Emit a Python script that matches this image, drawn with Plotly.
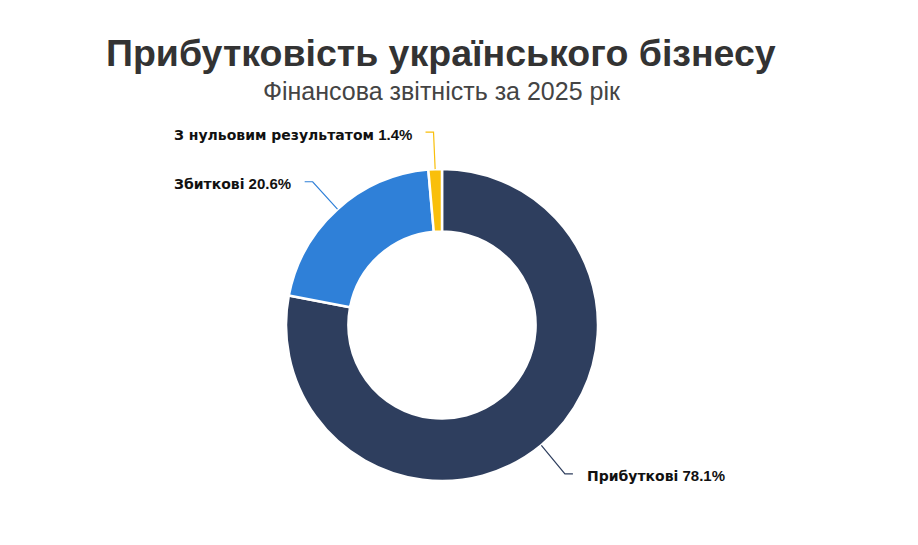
import math
import plotly.graph_objects as go

# ---- data ----
labels = ["Прибуткові", "Збиткові", "З нульовим результатом"]
values = [78.1, 20.6, 1.4]
colors = ["#2e3e5e", "#2f80d8", "#f9bf0b"]
title_text = "Прибутковість українського бізнесу"
subtitle_text = "Фінансова звітність за 2025 рік"

OFF = 8  # page body margin
W, H = 918 - 2 * OFF, 545 - 2 * OFF
CX, CY, R = 442 - OFF, 325 - OFF, 156
HOLE = 0.60

fig = go.Figure()
fig.add_trace(go.Pie(
    labels=labels, values=values, sort=False, direction="clockwise", rotation=0,
    hole=HOLE, textinfo="none", hoverinfo="label+percent", showlegend=False,
    marker=dict(colors=colors, line=dict(color="white", width=2.5)),
    domain=dict(x=[(CX - R) / W, (CX + R) / W], y=[1 - (CY + R) / H, 1 - (CY - R) / H]),
))

def px(x):
    return x / W

def py(y):
    return 1 - y / H

total = sum(values)
cum = 0.0
L1, L2, GAP = 37, 8, 12
shapes = []
annotations = []
NAME_FONT = "DejaVu Sans, Verdana, sans-serif"
PCT_FONT = "Liberation Sans, Arial, sans-serif"
for lab, val, col in zip(labels, values, colors):
    mid = (cum + val / 2) / total * 2 * math.pi
    cum += val
    sx, sy = math.sin(mid), -math.cos(mid)
    ox, oy = CX + R * sx, CY + R * sy
    ex, ey = ox + L1 * sx, oy + L1 * sy
    side = 1 if sx >= 0 else -1
    hx = ex + side * L2
    path = f"M {px(ox)} {py(oy)} L {px(ex)} {py(ey)} L {px(hx)} {py(ey)}"
    shapes.append(dict(type="path", path=path, xref="paper", yref="paper",
                       line=dict(color=col, width=1.2)))
    text = (f"<span style='font-family:{NAME_FONT};font-weight:bold;font-size:14px'>{lab}</span>"
            f" <b>{val}%</b>")
    annotations.append(dict(
        x=px(hx + side * GAP), y=py(ey + 2), xref="paper", yref="paper",
        xanchor="left" if side > 0 else "right", yanchor="middle", showarrow=False,
        text=text,
        font=dict(family=PCT_FONT, size=15, color="#111111"),
    ))

annotations.append(dict(
    x=px(441 - OFF), y=py(53 - OFF), xref="paper", yref="paper", xanchor="center", yanchor="middle",
    showarrow=False, text=f"<b>{title_text}</b>",
    font=dict(family="Liberation Sans, Arial, sans-serif", size=37.5, color="#333333"),
))
annotations.append(dict(
    x=px(442 - OFF), y=py(91 - OFF), xref="paper", yref="paper", xanchor="center", yanchor="middle",
    showarrow=False, text=subtitle_text,
    font=dict(family="Liberation Sans, Arial, sans-serif", size=25, color="#444444"),
))

fig.update_layout(
    width=W, height=H, margin=dict(l=0, r=0, t=0, b=0),
    paper_bgcolor="white", plot_bgcolor="white",
    shapes=shapes, annotations=annotations,
)
fig.write_html("out.html")
